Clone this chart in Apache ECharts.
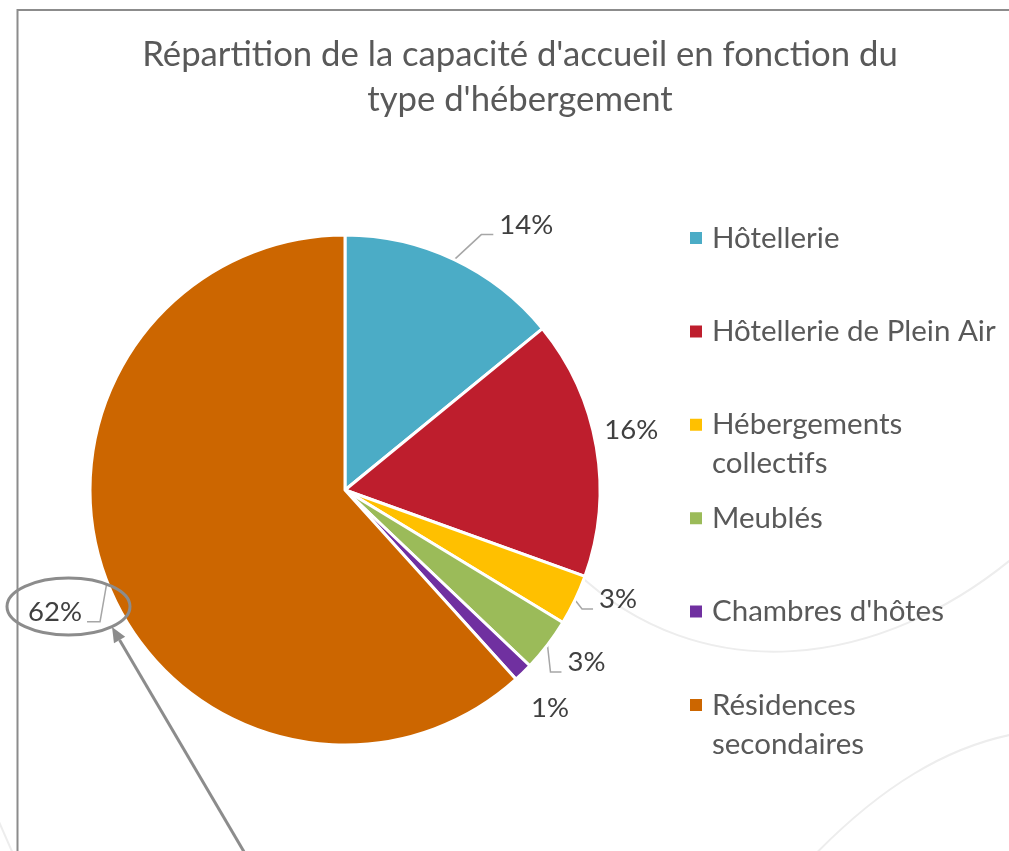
<!DOCTYPE html>
<html>
<head>
<meta charset="utf-8">
<script src="https://cdn.jsdelivr.net/npm/echarts@6/dist/echarts.min.js"></script>
<style>
  html, body { margin: 0; padding: 0; background: #fff; }
  #chart { width: 1009px; height: 851px; }
</style>
</head>
<body>
<div id="chart"></div>
<script>
const categories = ['Hôtellerie', 'Hôtellerie de Plein Air', 'Hébergements collectifs', 'Meublés', "Chambres d'hôtes", 'Résidences secondaires'];
const shares = [14.1, 16.4, 3.2, 3.4, 1.2, 61.7];
const legendLines = ['Hôtellerie', 'Hôtellerie de Plein Air', 'Hébergements\ncollectifs', 'Meublés', "Chambres d'hôtes", 'Résidences\nsecondaires'];
const colors = ['#4BACC6', '#BE1E2D', '#FFC000', '#9BBB59', '#7030A0', '#CC6600'];
const titleText = "Répartition de la capacité d'accueil en fonction du\ntype d'hébergement";

const font = 'Lato';
const legendLH = 39;

// label + leader line offsets from the slice edge point (Excel best-fit look)
const labelPlacement = [
  { line: [[27, -25], [39, -25]], text: [45, -34], align: 'left' },
  { line: null, text: [8, -17], align: 'left' },
  { line: [[7, 9], [18, 9]], text: [24, -1], align: 'left' },
  { line: [[3, 27], [14, 27]], text: [20, 17], align: 'left' },
  { line: null, text: [8, 36], align: 'left' },
  { line: [[-7, 40], [-20, 40]], text: [-25, 30], align: 'right' }
];

const chart = echarts.init(document.getElementById('chart'));

const legends = categories.map((name, i) => {
  const twoLines = legendLines[i].indexOf('\n') >= 0;
  const yc = 238 + i * 93.4;
  return {
    data: [name],
    left: 688,
    top: yc - legendLH / 2 - (twoLines ? legendLH : 0),
    orient: 'vertical',
    icon: 'rect',
    itemWidth: 14,
    itemHeight: 14,
    padding: 0,
    selectedMode: false,
    // blank first line keeps the marker level with the first text line
    formatter: () => (twoLines ? ' \n' : '') + legendLines[i],
    textStyle: {
      fontFamily: font,
      fontSize: 29.5,
      color: '#595959',
      lineHeight: legendLH,
      padding: [0, 0, 0, 4]
    }
  };
});

// arrow pointing at the 62% label
const tail = [250, 862];
const tip = [112, 627];
const dl = Math.hypot(tip[0] - tail[0], tip[1] - tail[1]);
const ux = (tip[0] - tail[0]) / dl, uy = (tip[1] - tail[1]) / dl;
const headLen = 15, headHalf = 6.5;
const bx = tip[0] - ux * headLen, by = tip[1] - uy * headLen;

const option = {
  animation: false,
  backgroundColor: '#fff',
  title: {
    text: titleText,
    left: 520,
    top: 32,
    padding: 0,
    textAlign: 'center',
    textStyle: {
      fontFamily: font,
      fontSize: 34.7,
      fontWeight: 'normal',
      color: '#595959',
      lineHeight: 45
    }
  },
  legend: legends,
  graphic: [
    { type: 'bezierCurve', z: -10, silent: true,
      shape: { x1: 575, y1: 571, cpx1: 700, cpy1: 690, cpx2: 880, cpy2: 672, x2: 1020, y2: 552 },
      style: { stroke: '#ededed', lineWidth: 2, fill: null } },
    { type: 'bezierCurve', z: -10, silent: true,
      shape: { x1: 805, y1: 865, cpx1: 880, cpy1: 785, cpx2: 950, cpy2: 745, x2: 1020, y2: 733 },
      style: { stroke: '#ededed', lineWidth: 2, fill: null } },
    { type: 'line', z: -10, silent: true,
      shape: { x1: -4, y1: 815, x2: 14, y2: 856 },
      style: { stroke: '#ededed', lineWidth: 2 } },
    { type: 'rect', z: 100, silent: true,
      shape: { x: 17.5, y: 10, width: 1100, height: 1000 },
      style: { fill: null, stroke: '#8c8c8c', lineWidth: 2 } },
    { type: 'ellipse', z: 100, silent: true,
      shape: { cx: 68.5, cy: 606.5, rx: 61.5, ry: 28.5 },
      style: { fill: null, stroke: '#8c8c8c', lineWidth: 3 } },
    { type: 'line', z: 100, silent: true,
      shape: { x1: tail[0], y1: tail[1], x2: bx, y2: by },
      style: { stroke: '#8c8c8c', lineWidth: 3 } },
    { type: 'polygon', z: 100, silent: true,
      shape: { points: [tip, [bx - uy * headHalf, by + ux * headHalf], [bx + uy * headHalf, by - ux * headHalf]] },
      style: { fill: '#8c8c8c' } }
  ],
  series: [{
    type: 'pie',
    center: [345, 490],
    radius: 255,
    startAngle: 90,
    clockwise: true,
    avoidLabelOverlap: false,
    itemStyle: { borderColor: '#fff', borderWidth: 3 },
    label: {
      show: true,
      position: 'outside',
      fontFamily: font,
      fontSize: 27.5,
      color: '#404040',
      formatter: p => Math.round(p.percent) + '%'
    },
    labelLine: {
      show: true,
      lineStyle: { color: '#a6a6a6', width: 1.5 }
    },
    labelLayout: function (p) {
      if (!p.labelLinePoints) return {};
      const pl = labelPlacement[p.dataIndex];
      const a = p.labelLinePoints[0];
      const pts = pl.line
        ? [a, [a[0] + pl.line[0][0], a[1] + pl.line[0][1]], [a[0] + pl.line[1][0], a[1] + pl.line[1][1]]]
        : [a, a, a];
      return {
        x: a[0] + pl.text[0],
        y: a[1] + pl.text[1],
        align: pl.align,
        verticalAlign: 'middle',
        labelLinePoints: pts
      };
    },
    emphasis: { disabled: true },
    data: categories.map((name, i) => ({
      name: name,
      value: shares[i],
      itemStyle: { color: colors[i] }
    }))
  }]
};

chart.setOption(option);
</script>
</body>
</html>
